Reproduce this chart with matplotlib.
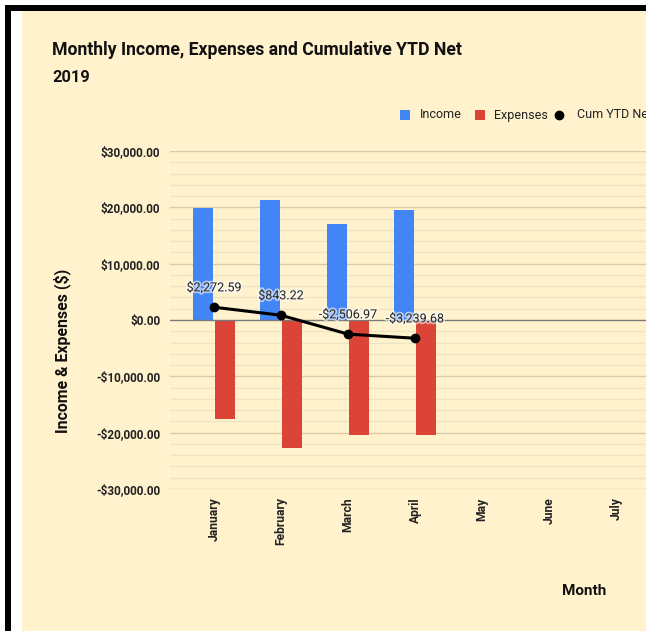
import matplotlib
matplotlib.use("Agg")
import matplotlib.pyplot as plt
from matplotlib.patches import Rectangle
from matplotlib.lines import Line2D
import matplotlib.patheffects as pe
import numpy as np

plt.rcParams['font.family'] = ['Roboto', 'DejaVu Sans']

months = ["January", "February", "March", "April", "May", "June", "July"]
income = [19900, 21260, 17100, 19600]
expenses = [-17627.41, -22689.37, -20450.19, -20332.71]
cum_ytd_net = [2272.59, 843.22, -2506.97, -3239.68]
cum_labels = ["$2,272.59", "$843.22", "-$2,506.97", "-$3,239.68"]
yticks = [-30000, -20000, -10000, 0, 10000, 20000, 30000]

W, H = 646, 631
fig = plt.figure(figsize=(W / 100, H / 100), dpi=100)
fig.patch.set_facecolor("white")

def px(x, y, w, h, color, z=-10):
    fig.patches.append(Rectangle((x / W, 1 - (y + h) / H), w / W, h / H,
                                 transform=fig.transFigure, facecolor=color,
                                 edgecolor="none", zorder=z))

bg = "#FFF2CC"
px(5, 5, W - 5, 6, "black")
px(5, 5, 6, H - 5, "black")
px(22, 11, W - 22, H - 11, bg)

# axes placement
left_px, right_px, top_px, bot_px = 170, 646, 151, 489
ax = fig.add_axes([left_px / W, 1 - bot_px / H, (right_px - left_px) / W, (bot_px - top_px) / H])
ax.set_zorder(2)
ax.set_facecolor("none")
x0_px, step = 214, 67
ax.set_xlim((left_px - x0_px) / step, (right_px - x0_px) / step)
ax.set_ylim(-30000, 30000)

# grid
for v in np.arange(-30000, 30001, 2000):
    if v % 10000 == 0:
        if v == 0:
            continue
        ax.axhline(v, color="#d8cba8", lw=1.0, zorder=1)
    else:
        ax.axhline(v, color="#efe4c4", lw=1.0, zorder=1)

x = np.arange(len(income))
bw = 0.30
off = 0.16
ax.bar(x - off, income, width=bw, color="#4285F4", zorder=3, label="Income")
ax.bar(x + off, expenses, width=bw, color="#DB4437", zorder=3, label="Expenses")
ax.axhline(0, color="#7a7a7a", lw=1.0, zorder=4)
ax.plot(x, cum_ytd_net, color="black", lw=2.2, marker="o", markersize=6,
        zorder=5, label="Cum YTD Net")

for xi, yi, lab in zip(x, cum_ytd_net, cum_labels):
    ax.annotate(lab, (xi, yi), xytext=(0, 14), textcoords="offset points",
                ha="center", va="center", fontsize=9, color="#2a2a2a", zorder=6,
                path_effects=[pe.withStroke(linewidth=2.5, foreground="white", alpha=0.6)])

for s in ax.spines.values():
    s.set_visible(False)
ax.set_yticks(yticks)
ax.set_yticklabels([("-$" if v < 0 else "$") + f"{abs(v):,.2f}" for v in yticks],
                   fontsize=8.5, fontweight="bold", color="#222222")
ax.set_xticks(np.arange(len(months)))
ax.set_xticklabels(months, rotation=90, fontsize=8.7, fontweight="bold",
                   color="#222222", va="top")
ax.tick_params(axis="both", length=0)
ax.tick_params(axis="y", pad=7)
ax.tick_params(axis="x", pad=6)

fig.text(52 / W, 1 - 50 / H, "Monthly Income, Expenses and Cumulative YTD Net",
         fontsize=12.7, fontweight="bold", color="#111111", va="center", ha="left")
fig.text(52 / W, 1 - 77 / H, "2019", fontsize=11.8, fontweight="bold",
         color="#111111", va="center", ha="left")
fig.text(62 / W, 1 - 351 / H, "Income & Expenses ($)", rotation=90, fontsize=11.4,
         fontweight="bold", color="#111111", va="center", ha="center")
fig.text(584 / W, 1 - 591 / H, "Month", fontsize=11, fontweight="bold",
         color="#111111", va="center", ha="center")

# legend
ly = 115
px(400, ly - 5, 10, 10, "#4285F4", 3)
fig.text(420 / W, 1 - ly / H, "Income", fontsize=9, color="#222222", va="center")
px(475, ly - 5, 10, 10, "#DB4437", 3)
fig.text(494 / W, 1 - ly / H, "Expenses", fontsize=9, color="#222222", va="center")
fig.add_artist(Line2D([559 / W], [1 - ly / H], marker="o", markersize=6,
                      color="black", linestyle="none", transform=fig.transFigure))
fig.text(577 / W, 1 - ly / H, "Cum YTD Net", fontsize=9, color="#222222", va="center")

fig.savefig("out.png", dpi=100, facecolor=fig.get_facecolor())
